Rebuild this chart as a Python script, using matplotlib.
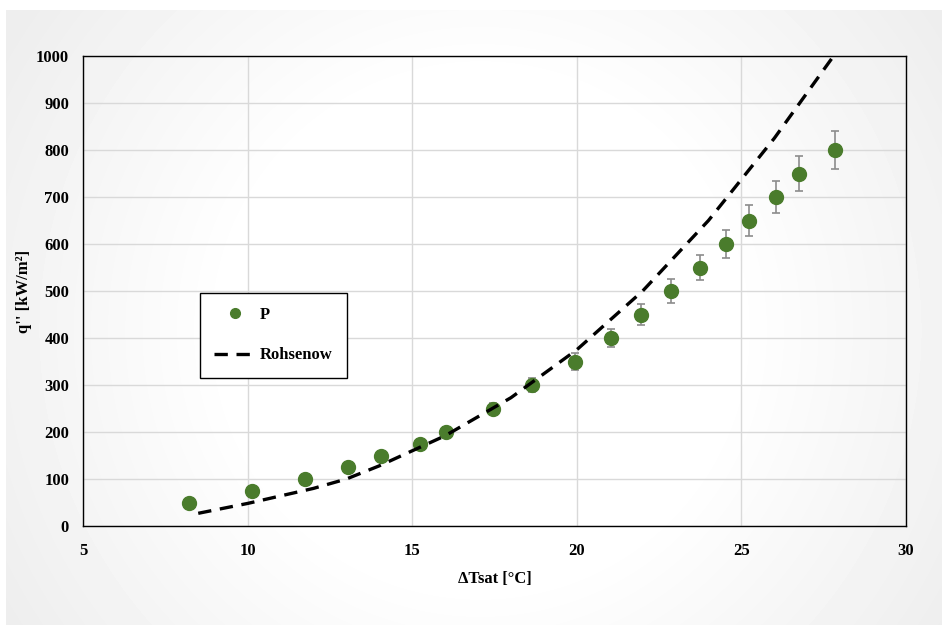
import numpy as np
import matplotlib.pyplot as plt
from matplotlib.lines import Line2D

# Data
dt_p = [8.22, 10.13, 11.75, 13.05, 14.05, 15.24, 16.03, 17.45, 18.64, 19.95,
        21.04, 21.95, 22.87, 23.74, 24.53, 25.23, 26.05, 26.75, 27.84]
q_p = [50, 75, 100, 125, 150, 175, 200, 250, 300, 350,
       400, 450, 500, 550, 600, 650, 700, 750, 800]
q_err = [2.5, 3.75, 5, 6.25, 7.5, 8.75, 10, 12.5, 15, 17.5,
         20, 22.5, 25, 27.5, 30, 32.5, 35, 37.5, 40]

dt_r = [8.5, 10, 12, 13, 14, 16, 18, 20, 22, 24, 26, 27.8]
q_r = [27, 48, 80, 100, 128, 192, 273, 375, 500, 650, 825, 1000]

x_ticks = [5, 10, 15, 20, 25, 30]
y_ticks = [0, 100, 200, 300, 400, 500, 600, 700, 800, 900, 1000]

GREEN = "#4a7c2c"
plt.rcParams["font.family"] = ["Liberation Serif", "DejaVu Serif"]

W, H = 942, 625
fig = plt.figure(figsize=(W / 100, H / 100), dpi=100)
fig.patch.set_facecolor("white")

# radial gradient background panel
bg = fig.add_axes([6 / W, 0, 1 - 6 / W, 1 - 10 / H], zorder=0)
yy, xx = np.mgrid[0:H - 10, 0:W - 6]
r = np.hypot(xx - 474, yy - 320) / 560.0
shade = np.clip(1.0 - 0.07 * np.clip((r - 0.45) / 0.55, 0, 1), 0.93, 1.0)
bg.imshow(shade, cmap="gray", vmin=0, vmax=1, aspect="auto", interpolation="bilinear")
bg.axis("off")

ax = fig.add_axes([83 / W, 1 - 526 / H, (906 - 83) / W, (526 - 56) / H], zorder=1)
ax.patch.set_alpha(0)

ax.errorbar(dt_p, q_p, yerr=q_err, fmt="o", color=GREEN, ms=10,
            ecolor="#8c8c8c", elinewidth=1.2, capsize=3, capthick=1.2, zorder=3)
ax.plot(dt_r, q_r, color="black", lw=2.4, dashes=(4, 2.6), zorder=4)

ax.set_xlim(5, 30)
ax.set_ylim(0, 1000)
ax.set_xticks(x_ticks)
ax.set_yticks(y_ticks)
ax.tick_params(length=0, labelsize=12)
ax.tick_params(axis="x", pad=12)
ax.tick_params(axis="y", pad=10)
for lab in ax.get_xticklabels() + ax.get_yticklabels():
    lab.set_fontweight("bold")
ax.grid(True, color="#d9d9d9", lw=1.0)
ax.set_axisbelow(True)
for s in ax.spines.values():
    s.set_color("black")
    s.set_linewidth(1.0)

ax.set_xlabel("ΔTsat [°C]", fontsize=12, fontweight="bold", labelpad=9)
ax.set_ylabel("q'' [kW/m²]", fontsize=12, fontweight="bold", labelpad=3)

handles = [
    Line2D([], [], marker="o", color=GREEN, ls="none", ms=7),
    Line2D([], [], color="black", lw=2.4, dashes=(4, 2.6)),
]
leg = ax.legend(handles, ["P", "Rohsenow"], loc="upper left",
                bbox_to_anchor=((200 - 83) / (906 - 83), (526 - 293) / (526 - 56)),
                borderaxespad=0, frameon=True, fancybox=False, edgecolor="black",
                framealpha=1, prop={"weight": "bold", "size": 12}, handlelength=2.5,
                labelspacing=1.45, borderpad=0.85, handletextpad=0.25)
leg.get_frame().set_linewidth(1.0)

fig.savefig("out.png", dpi=100)
